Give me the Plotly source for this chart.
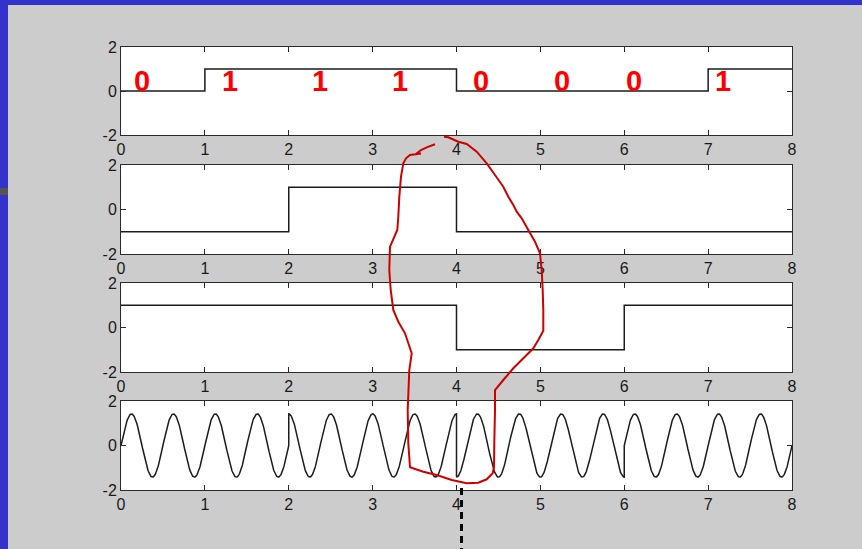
import numpy as np
import plotly.graph_objects as go

W, H = 862, 549

# ---------------- data ----------------
x_ticks = [0, 1, 2, 3, 4, 5, 6, 7, 8]
y_ticks = [-2, 0, 2]
bits = [0, 1, 1, 1, 0, 0, 0, 1]                 # panel 1, one per unit
bit_label_x = [0.25, 1.30, 2.37, 3.33, 4.29, 5.26, 6.12, 7.18]
bit_label_y = 0.45
q_levels = [-1, 1, -1, -1]                      # panel 2, one per 2 units
i_levels = [1, 1, -1, 1]                        # panel 3, one per 2 units
carrier_phase_deg = [-90, 0, 180, -90]          # panel 4, per symbol
carrier_amp = 1.42
carrier_cycles_per_unit = 2
symbol_len = 2

# freehand red pen stroke (screen pixels)
pen_stroke_px = [
    (435, 144.3), (426.7, 147.3), (421, 150), (416.5, 153.5), (421, 153.5),
    (410, 155), (406, 158.3), (403.3, 163.3), (401, 176.7), (399.3, 196.7),
    (398.3, 216.7), (397.3, 230), (390, 246.7), (389.3, 270), (390.7, 290),
    (393.3, 310), (398.3, 321.7), (405, 333.3), (411.7, 353.3), (409.3, 370),
    (407.7, 410), (408.3, 443.3), (410, 467.3), (423.3, 471.7), (436.7, 475),
    (451.7, 480), (466.7, 483.3), (478.3, 482.7), (486.7, 479.3), (492.7, 473.3),
    (494, 466.7), (494.3, 443.3), (495, 410), (495, 390), (503.3, 380),
    (513.3, 368.3), (523.3, 358.3), (533.3, 348.3), (538.3, 340), (543.3, 330.7),
    (543.3, 310), (542.7, 290), (541.7, 270), (540, 253.3), (535, 241.7),
    (528.3, 230), (521.7, 218.3), (516.7, 211.7), (513.3, 205), (508.3, 196.7),
    (503.3, 186.7), (495, 175), (486.7, 163.3), (476.7, 151.7), (466.7, 144),
    (458.3, 141.7), (448.3, 137.3), (444, 136.7),
]

# ---------------- layout geometry ----------------
plot_left, plot_right = 121, 792
panel_px = [(47, 135), (165, 254), (283, 372), (401, 490)]

def px_x(p):
    return p / W

def px_y(p):
    return 1 - p / H

fig = go.Figure()

LINE = "#1c1c1c"
AX = "#2a2a2a"

# panel 1: bits
edges1 = list(range(len(bits) + 1))
fig.add_trace(go.Scatter(x=edges1, y=bits + [bits[-1]], mode="lines",
                         line=dict(color=LINE, width=1.5, shape="hv"),
                         xaxis="x", yaxis="y", showlegend=False, hoverinfo="skip"))

# panel 2 / 3: symbol levels
edges2 = [k * symbol_len for k in range(len(q_levels) + 1)]
fig.add_trace(go.Scatter(x=edges2, y=q_levels + [q_levels[-1]], mode="lines",
                         line=dict(color=LINE, width=1.5, shape="hv"),
                         xaxis="x2", yaxis="y2", showlegend=False, hoverinfo="skip"))
fig.add_trace(go.Scatter(x=edges2, y=i_levels + [i_levels[-1]], mode="lines",
                         line=dict(color=LINE, width=1.5, shape="hv"),
                         xaxis="x3", yaxis="y3", showlegend=False, hoverinfo="skip"))

# panel 4: modulated carrier
ts, ss = [], []
for k, ph in enumerate(carrier_phase_deg):
    t = np.linspace(k * symbol_len, (k + 1) * symbol_len, 400)
    s = carrier_amp * np.cos(2 * np.pi * carrier_cycles_per_unit * t + np.deg2rad(ph))
    ts.extend(t.tolist())
    ss.extend(s.tolist())
fig.add_trace(go.Scatter(x=ts, y=ss, mode="lines",
                         line=dict(color=LINE, width=1.5),
                         xaxis="x4", yaxis="y4", showlegend=False, hoverinfo="skip"))

# axes
tickfont = dict(family="Liberation Sans", size=16, color="#1a1a1a")
layout_axes = {}
for i, (top, bot) in enumerate(panel_px, start=1):
    sfx = "" if i == 1 else str(i)
    layout_axes["xaxis" + sfx] = dict(
        domain=[px_x(plot_left), px_x(plot_right)], anchor="y" + sfx,
        range=[0, 8], tickvals=x_ticks, ticktext=[str(v) for v in x_ticks],
        ticks="inside", ticklen=5, tickcolor=AX, showline=True, linecolor=AX,
        linewidth=1, mirror="allticks", showgrid=False, zeroline=False,
        tickfont=tickfont, fixedrange=True, automargin=False,
    )
    layout_axes["yaxis" + sfx] = dict(
        domain=[px_y(bot), px_y(top)], anchor="x" + sfx,
        range=[-2, 2], tickvals=y_ticks, ticktext=[str(v) for v in y_ticks],
        ticks="inside", ticklen=5, tickcolor=AX, showline=True, linecolor=AX,
        linewidth=1, mirror="allticks", showgrid=False, zeroline=False,
        tickfont=tickfont, fixedrange=True, automargin=False,
    )

annotations = []
for bx, b in zip(bit_label_x, bits):
    annotations.append(dict(x=bx, y=bit_label_y, xref="x", yref="y", text=str(b),
                            showarrow=False, xanchor="center", yanchor="middle",
                            font=dict(family="Liberation Sans", size=29, color="#ff0000",
                                      weight="bold")))

shapes = [
    # blue window border
    dict(type="rect", xref="paper", yref="paper", x0=0, x1=px_x(8), y0=0, y1=1,
         fillcolor="#3333cc", line=dict(width=0), layer="below"),
    dict(type="rect", xref="paper", yref="paper", x0=0, x1=1, y0=px_y(5), y1=1,
         fillcolor="#3333cc", line=dict(width=0), layer="below"),
    dict(type="rect", xref="paper", yref="paper", x0=0, x1=px_x(8), y0=px_y(195), y1=px_y(188),
         fillcolor="#555555", line=dict(width=0), layer="below"),
    # dashed pointer
    dict(type="line", xref="paper", yref="paper", x0=px_x(461.5), x1=px_x(461.5),
         y0=px_y(488), y1=0, line=dict(color="#000000", width=3, dash="7px,5px")),
]
# white panel backgrounds
for top, bot in panel_px:
    shapes.append(dict(type="rect", xref="paper", yref="paper",
                       x0=px_x(plot_left), x1=px_x(plot_right), y0=px_y(bot), y1=px_y(top),
                       fillcolor="#ffffff", line=dict(width=0), layer="below"))

path = "M " + " L ".join(f"{px_x(a):.5f},{px_y(b):.5f}" for a, b in pen_stroke_px)
shapes.append(dict(type="path", xref="paper", yref="paper", path=path,
                   line=dict(color="#d00000", width=2), layer="above"))

fig.update_layout(
    width=W, height=H, autosize=False,
    margin=dict(l=0, r=0, t=0, b=0, pad=0, autoexpand=False),
    paper_bgcolor="#cccccc", plot_bgcolor="rgba(0,0,0,0)",
    annotations=annotations, shapes=shapes, showlegend=False,
    **layout_axes,
)

fig.write_html(
    "out.html",
    config={"displayModeBar": False},
    post_script="document.body.style.margin='0';document.body.style.overflow='hidden';",
)
